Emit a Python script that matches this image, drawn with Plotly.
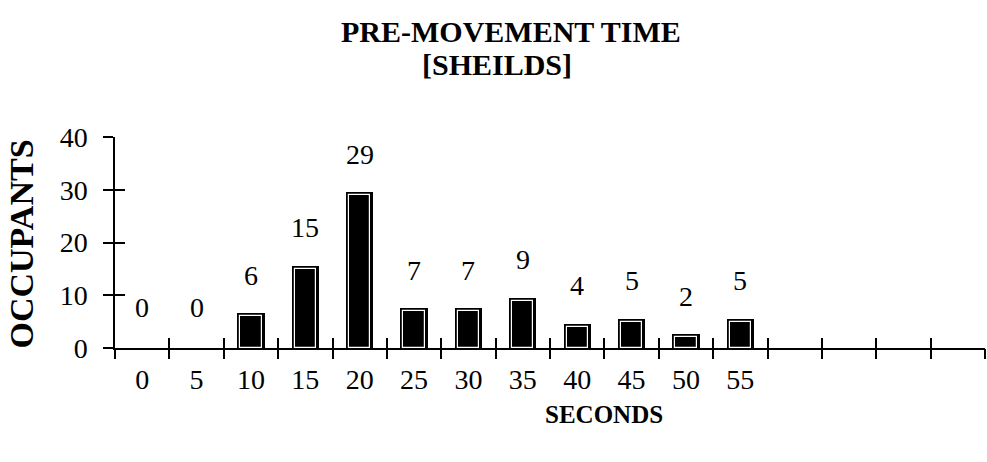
import plotly.graph_objects as go

# ---- data ----
seconds = ["0", "5", "10", "15", "20", "25", "30", "35", "40", "45", "50", "55"]
occupants = [0, 0, 6, 15, 29, 7, 7, 9, 4, 5, 2, 5]
y_ticks = [0, 10, 20, 30, 40]
n_slots = 16  # axis continues past last labelled category

title_line1 = "PRE-MOVEMENT TIME"
title_line2 = "[SHEILDS]"
x_title = "SECONDS"
y_title = "OCCUPANTS"

FONT = "Liberation Serif, Times New Roman, serif"
W, H = 987, 462
L, R, T, B = 115, 2, 137, 114

xs = list(range(len(seconds)))
bar_vals = [v if v > 0 else None for v in occupants]  # zero bars drawn as nothing

fig = go.Figure()
# outer black body (thick black outline extends beyond the bar edge)
fig.add_trace(go.Bar(x=xs, y=bar_vals, width=0.39,
                     marker=dict(color="black", line=dict(color="black", width=6)),
                     hoverinfo="skip", showlegend=False))
# inner white outline
fig.add_trace(go.Bar(x=xs, y=bar_vals, width=0.39,
                     marker=dict(color="black", line=dict(color="white", width=1.2)),
                     showlegend=False))

# value labels
for xi, v in zip(xs, occupants):
    fig.add_annotation(x=xi, y=v, text=str(v), showarrow=False,
                       yshift=41, yanchor="middle",
                       font=dict(family=FONT, size=28, color="black"))

xr = [-0.5, n_slots - 0.5]
boundaries = [i - 0.5 for i in range(n_slots + 1)]

fig.update_layout(
    width=W, height=H,
    margin=dict(l=L, r=R, t=T, b=B, autoexpand=False),
    paper_bgcolor="white", plot_bgcolor="white",
    barmode="overlay", bargap=0,
    font=dict(family=FONT, color="black"),
    xaxis=dict(range=xr, tickvals=xs, ticktext=seconds, ticks="",
               showgrid=False, zeroline=False, showline=True,
               linecolor="black", linewidth=2,
               tickfont=dict(family=FONT, size=28), ticklabelstandoff=5),
    xaxis2=dict(range=xr, overlaying="x", tickvals=boundaries, ticks="outside",
                ticklen=10, tickwidth=1.5, tickcolor="black", showticklabels=False,
                showgrid=False, zeroline=False, showline=False, side="bottom"),
    xaxis3=dict(range=xr, overlaying="x", tickvals=boundaries, ticks="inside",
                ticklen=10, tickwidth=1.5, tickcolor="black", showticklabels=False,
                showgrid=False, zeroline=False, showline=False, side="bottom"),
    yaxis=dict(range=[0, 40], tickvals=y_ticks, ticks="outside", ticklen=10,
               tickwidth=1.5, tickcolor="black",
               showgrid=False, zeroline=False, showline=True,
               linecolor="black", linewidth=1.5,
               tickfont=dict(family=FONT, size=28), ticklabelstandoff=10),
    yaxis2=dict(range=[0, 40], overlaying="y", tickvals=y_ticks, ticks="inside",
                ticklen=10, tickwidth=1.5, tickcolor="black", showticklabels=False,
                showgrid=False, zeroline=False, showline=False),
)

# invisible helper traces so the overlay axes render
fig.add_trace(go.Scatter(x=[None], y=[None], xaxis="x2", yaxis="y2",
                         showlegend=False, hoverinfo="skip"))
fig.add_trace(go.Scatter(x=[None], y=[None], xaxis="x3", yaxis="y",
                         showlegend=False, hoverinfo="skip"))

# titles
fig.add_annotation(xref="paper", yref="paper", x=(511 - L) / (W - L - R), y=1,
                   yshift=T - 31, text="<b>" + title_line1 + "</b>", showarrow=False,
                   xanchor="center", yanchor="middle",
                   font=dict(family=FONT, size=30, color="black"))
fig.add_annotation(xref="paper", yref="paper", x=(497 - L) / (W - L - R), y=1,
                   yshift=T - 64, text="<b>" + title_line2 + "</b>", showarrow=False,
                   xanchor="center", yanchor="middle",
                   font=dict(family=FONT, size=30, color="black"))
fig.add_annotation(xref="paper", yref="paper", x=(604 - L) / (W - L - R), y=0,
                   yshift=-(414 - (H - B)), text="<b>" + x_title + "</b>", showarrow=False,
                   xanchor="center", yanchor="middle",
                   font=dict(family=FONT, size=25, color="black"))
fig.add_annotation(xref="paper", yref="paper", x=0, y=0.5, xshift=-(L - 21), yshift=-2,
                   text="<b>" + y_title + "</b>", showarrow=False, textangle=-90,
                   xanchor="center", yanchor="middle",
                   font=dict(family=FONT, size=34, color="black"))

fig.write_html("out.html", config={"displayModeBar": False},
               post_script="document.body.style.margin='0';document.body.style.overflow='hidden';")
